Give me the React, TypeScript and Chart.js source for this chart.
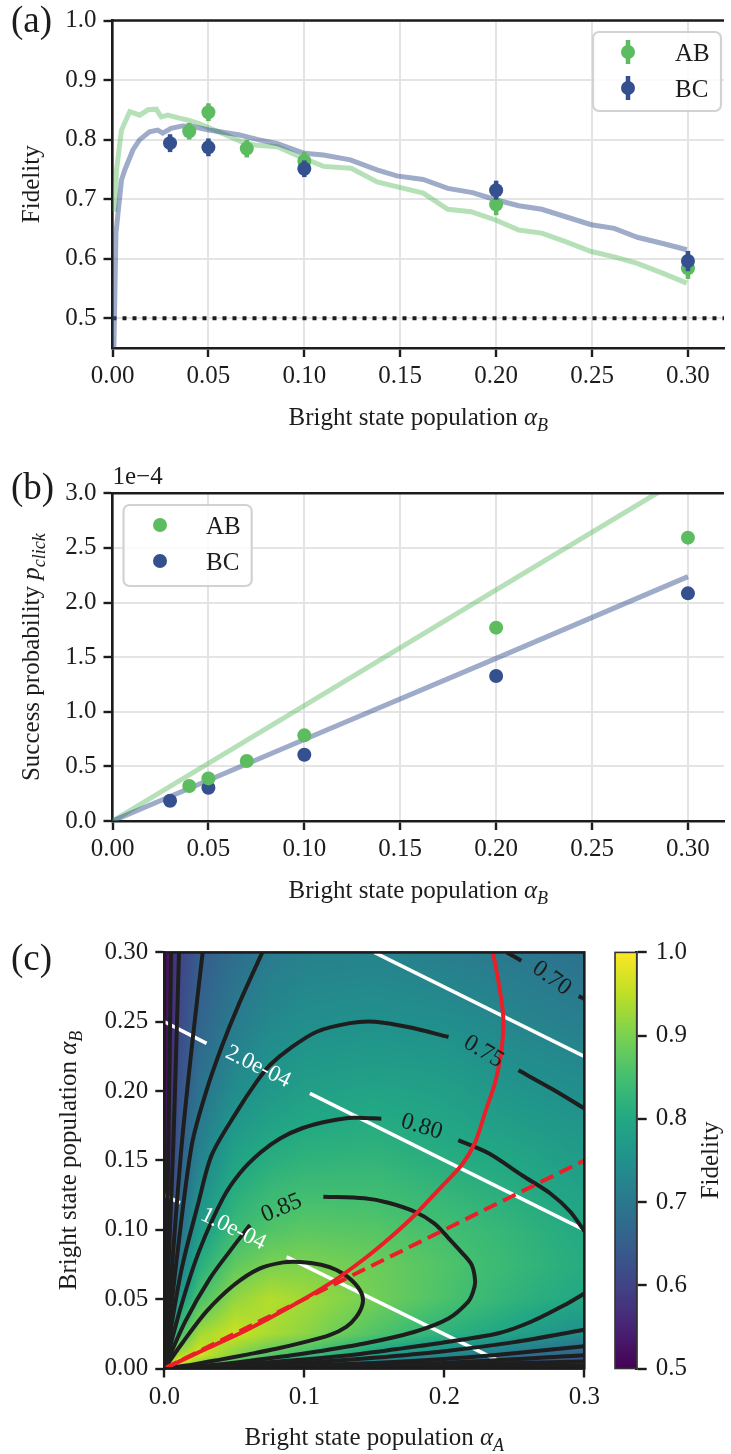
import React, { useEffect, useRef } from 'react';
import { Chart, registerables } from 'chart.js';

Chart.register(...registerables);

const SERIF = '"Liberation Serif", "Times New Roman", Times, serif';
const INK = '#1c1c1c';
const GRID_COLOR = '#e4e4e4';
const GREEN = '#5dbb60';
const BLUE = '#34508e';
const GREEN_FAINT = 'rgba(93,187,96,0.45)';
const BLUE_FAINT = 'rgba(52,80,142,0.48)';
const RED = '#ea1f27';
const CONTOUR_INK = '#1e1e1e';
const FS = 25;

// ---------------- panel (a): fidelity ----------------
const ALPHA_TICKS = [0, 0.05, 0.1, 0.15, 0.2, 0.25, 0.3];
const FIDELITY_TICKS = [0.5, 0.6, 0.7, 0.8, 0.9, 1.0];
const AB_ALPHA = [0.04, 0.05, 0.07, 0.1, 0.2, 0.3];
const AB_FIDELITY = [0.814, 0.846, 0.785, 0.764, 0.691, 0.584];
const AB_FIDELITY_ERR = [0.014, 0.015, 0.015, 0.015, 0.018, 0.018];
const BC_ALPHA = [0.03, 0.05, 0.1, 0.2, 0.3];
const BC_FIDELITY = [0.794, 0.787, 0.751, 0.715, 0.596];
const BC_FIDELITY_ERR = [0.015, 0.015, 0.014, 0.016, 0.017];
const AB_MODEL_ALPHA = [0.0012, 0.0021, 0.0047, 0.009, 0.0142, 0.0185, 0.0228, 0.0254, 0.0288, 0.0348, 0.039, 0.045, 0.0547, 0.0667, 0.074, 0.086, 0.0956, 0.11, 0.1244, 0.138, 0.148, 0.162, 0.1748, 0.1869, 0.1997, 0.2118, 0.2238, 0.2358, 0.2496, 0.2616, 0.2736, 0.2874, 0.2994];
const AB_MODEL_FIDELITY = [0.679, 0.749, 0.816, 0.847, 0.841, 0.85, 0.851, 0.838, 0.841, 0.836, 0.833, 0.827, 0.814, 0.797, 0.791, 0.788, 0.774, 0.755, 0.752, 0.729, 0.721, 0.71, 0.683, 0.679, 0.665, 0.648, 0.643, 0.629, 0.612, 0.603, 0.592, 0.575, 0.559];
const BC_MODEL_ALPHA = [0.0006, 0.0018, 0.0047, 0.0064, 0.0107, 0.0142, 0.0193, 0.0236, 0.0262, 0.0305, 0.0365, 0.0416, 0.0503, 0.0657, 0.076, 0.086, 0.1, 0.11, 0.124, 0.1379, 0.1482, 0.162, 0.1748, 0.1877, 0.1997, 0.2118, 0.2238, 0.2367, 0.2496, 0.2616, 0.2736, 0.2874, 0.2994];
const BC_MODEL_FIDELITY = [0.43, 0.643, 0.732, 0.749, 0.783, 0.8, 0.813, 0.816, 0.811, 0.819, 0.823, 0.822, 0.816, 0.808, 0.8, 0.793, 0.777, 0.774, 0.766, 0.749, 0.739, 0.733, 0.718, 0.711, 0.699, 0.689, 0.683, 0.67, 0.657, 0.651, 0.636, 0.625, 0.615];
const CLASSICAL_LIMIT = 0.5;

// ---------------- panel (b): success probability (units of 1e-4) ----------------
const P_TICKS = [0, 0.5, 1.0, 1.5, 2.0, 2.5, 3.0];
const P_EXPONENT_LABEL = '1e\u22124';
const AB_PCLICK = [0.32, 0.39, 0.549, 0.784, 1.77, 2.594];
const BC_PCLICK = [0.186, 0.305, 0.607, 1.327, 2.084];
const PCLICK_MODEL_ALPHA = [0, 0.1, 0.2, 0.3];
const AB_PCLICK_MODEL = [0, 1.057, 2.115, 3.172];
const BC_PCLICK_MODEL = [0, 0.746, 1.489, 2.237];

// ---------------- panel (c): fidelity map ----------------
const MAP_A_TICKS = [0, 0.1, 0.2, 0.3];
const MAP_B_TICKS = [0, 0.05, 0.1, 0.15, 0.2, 0.25, 0.3];
const CBAR_TICKS = [0.5, 0.6, 0.7, 0.8, 0.9, 1.0];
const GRID_A = [0, 0.005, 0.01, 0.025, 0.05, 0.075, 0.1, 0.15, 0.2, 0.25, 0.3];
const GRID_B = [0, 0.0025, 0.005, 0.01, 0.025, 0.05, 0.075, 0.1, 0.15, 0.2, 0.25, 0.3];
const FIDELITY_MAP = [
  [0.98, 0.5, 0.5, 0.5, 0.5, 0.5, 0.5, 0.5, 0.5, 0.5, 0.5],
  [0.5, 0.98, 0.93, 0.84, 0.78, 0.72, 0.7, 0.65, 0.61, 0.58, 0.565],
  [0.5, 0.93, 0.99, 0.92, 0.86, 0.81, 0.765, 0.71, 0.665, 0.625, 0.6],
  [0.5, 0.87, 0.935, 0.97, 0.91, 0.87, 0.845, 0.785, 0.735, 0.69, 0.652],
  [0.5, 0.77, 0.845, 0.93, 0.963, 0.935, 0.915, 0.862, 0.82, 0.788, 0.745],
  [0.5, 0.675, 0.77, 0.855, 0.918, 0.944, 0.93, 0.893, 0.857, 0.822, 0.797],
  [0.5, 0.635, 0.705, 0.81, 0.875, 0.898, 0.902, 0.887, 0.862, 0.832, 0.807],
  [0.5, 0.615, 0.677, 0.775, 0.837, 0.862, 0.872, 0.866, 0.848, 0.826, 0.8],
  [0.5, 0.59, 0.645, 0.722, 0.79, 0.812, 0.822, 0.826, 0.81, 0.797, 0.773],
  [0.5, 0.575, 0.625, 0.69, 0.742, 0.765, 0.78, 0.79, 0.782, 0.758, 0.745],
  [0.5, 0.56, 0.607, 0.662, 0.705, 0.733, 0.745, 0.75, 0.745, 0.727, 0.712],
  [0.5, 0.55, 0.598, 0.645, 0.68, 0.705, 0.717, 0.722, 0.712, 0.699, 0.687],
];

type Pt = [number, number];
const F090: Pt[] = [[0, 0], [0.0135, 0.0193], [0.03, 0.041], [0.0495, 0.06], [0.068, 0.072], [0.085, 0.0765], [0.097, 0.0768], [0.112, 0.0748], [0.123, 0.071], [0.134, 0.0635], [0.141, 0.054], [0.1415, 0.046], [0.137, 0.037], [0.13, 0.03], [0.118, 0.024], [0.1, 0.019], [0.08, 0.0142], [0.06, 0.0102], [0.04, 0.0064], [0.02, 0.0028], [0, 0]];
const F085_LEFT: Pt[] = [[0, 0], [0.015, 0.034], [0.0326, 0.065], [0.0486, 0.087], [0.0612, 0.1035]];
const F085_RIGHT: Pt[] = [[0.1136, 0.1239], [0.143, 0.1227], [0.16, 0.1195], [0.179, 0.113], [0.193, 0.1045], [0.203, 0.094], [0.213, 0.083], [0.2196, 0.0746], [0.222, 0.0626], [0.2205, 0.055], [0.217, 0.048], [0.203, 0.036], [0.179, 0.0265], [0.143, 0.018], [0.1, 0.0108], [0.06, 0.0055], [0.03, 0.0022], [0, 0]];
const F080_LEFT: Pt[] = [[0, 0], [0.012, 0.045], [0.025, 0.085], [0.042, 0.123], [0.0541, 0.141], [0.0687, 0.1557], [0.083, 0.166], [0.0989, 0.1734], [0.118, 0.1785], [0.1358, 0.1808], [0.155, 0.18]];
const F080_RIGHT: Pt[] = [[0.21, 0.1647], [0.232, 0.155], [0.256, 0.139], [0.276, 0.126], [0.29, 0.113], [0.3, 0.099]];
const F080_LOW: Pt[] = [[0.3, 0.054], [0.286, 0.0458], [0.262, 0.0337], [0.2386, 0.0254], [0.203, 0.0193], [0.17, 0.0145], [0.14, 0.0105], [0.1, 0.0065], [0.06, 0.0035], [0.03, 0.0014], [0, 0]];
const F075_LEFT: Pt[] = [[0, 0], [0.012, 0.07], [0.0245, 0.12], [0.0339, 0.154], [0.0517, 0.185], [0.066, 0.2068], [0.0755, 0.2188], [0.0898, 0.2308], [0.1089, 0.2428], [0.1326, 0.249], [0.1505, 0.25], [0.175, 0.246], [0.203, 0.239]];
const F075_RIGHT: Pt[] = [[0.253, 0.215], [0.277, 0.2015], [0.3, 0.1876]];
const F075_LOW: Pt[] = [[0.3, 0.028], [0.25, 0.019], [0.2, 0.0125], [0.15, 0.0078], [0.1, 0.0042], [0.05, 0.0015], [0, 0]];
const F070_LEFT: Pt[] = [[0, 0], [0.009, 0.08], [0.0196, 0.161], [0.03, 0.2], [0.041, 0.232], [0.053, 0.262], [0.07, 0.3]];
const F070_TOP: Pt[] = [[0.2447, 0.3], [0.255, 0.294]];
const F070_EDGE: Pt[] = [[0.296, 0.2685], [0.3, 0.2665]];
const F070_LOW: Pt[] = [[0.3, 0.016], [0.25, 0.011], [0.2, 0.0068], [0.15, 0.004], [0.1, 0.0022], [0.05, 0.0007], [0, 0]];
const F065_LEFT: Pt[] = [[0, 0], [0.006, 0.08], [0.0124, 0.161], [0.02, 0.235], [0.0274, 0.3]];
const F065_LOW: Pt[] = [[0.3, 0.0095], [0.2, 0.004], [0.1, 0.0013], [0, 0]];
const F060_LEFT: Pt[] = [[0, 0], [0.004, 0.1], [0.0064, 0.161], [0.0085, 0.23], [0.0105, 0.3]];
const F060_LOW: Pt[] = [[0.3, 0.005], [0.15, 0.0016], [0, 0]];
const F055_LEFT: Pt[] = [[0, 0], [0.0029, 0.161], [0.0048, 0.3]];
const F055_LOW: Pt[] = [[0.3, 0.002], [0, 0]];
const FIDELITY_CONTOURS: Pt[][] = [F090, F085_LEFT, F085_RIGHT, F080_LEFT, F080_RIGHT, F080_LOW, F075_LEFT, F075_RIGHT, F075_LOW, F070_LEFT, F070_TOP, F070_EDGE, F070_LOW, F065_LEFT, F065_LOW, F060_LEFT, F060_LOW, F055_LEFT, F055_LOW];

const PCLICK_1E4: Pt[][] = [[[0, 0.125], [0.0112, 0.1194]], [[0.0874, 0.0805], [0.24, 0.005]]];
const PCLICK_2E4: Pt[][] = [[[0, 0.25], [0.0302, 0.2344]], [[0.104, 0.1984], [0.3, 0.1]]];
const PCLICK_3E4: Pt[][] = [[[0.15, 0.3], [0.3, 0.225]]];
const OPTIMUM_CURVE: Pt[] = [[0, 0], [0.03, 0.0142], [0.0589, 0.0278], [0.09, 0.0445], [0.12, 0.0625], [0.1434, 0.0795], [0.162, 0.095], [0.179, 0.1107], [0.196, 0.129], [0.2124, 0.1467], [0.222, 0.163], [0.2296, 0.186], [0.2365, 0.207], [0.2412, 0.232], [0.242, 0.255], [0.2385, 0.28], [0.2347, 0.3]];
const BALANCED_LINE: Pt[] = [[0, 0], [0.3, 0.15]];

type MapLabel = { text: string; a: number; b: number; deg: number; color: string; size: number };
const MAP_LABELS: MapLabel[] = [
  { text: '2.0e-04', a: 0.067, b: 0.2175, deg: 26.3, color: '#ffffff', size: 23 },
  { text: '1.0e-04', a: 0.0493, b: 0.1005, deg: 26.3, color: '#ffffff', size: 23 },
  { text: '0.85', a: 0.0838, b: 0.1155, deg: -23, color: INK, size: 24 },
  { text: '0.80', a: 0.1838, b: 0.1743, deg: 17, color: INK, size: 24 },
  { text: '0.75', a: 0.228, b: 0.2284, deg: 31, color: INK, size: 24 },
  { text: '0.70', a: 0.2767, b: 0.2813, deg: 36, color: INK, size: 24 },
];

const VIRIDIS = ['#440154', '#482475', '#414487', '#355f8d', '#2a788e', '#21918c', '#22a884', '#44bf70', '#7ad151', '#bddf26', '#fde725'];
const VIRIDIS_RGB = VIRIDIS.map((h) => [parseInt(h.slice(1, 3), 16), parseInt(h.slice(3, 5), 16), parseInt(h.slice(5, 7), 16)]);

function viridis(t: number): number[] {
  const u = Math.min(1, Math.max(0, t)) * (VIRIDIS_RGB.length - 1);
  const i = Math.min(VIRIDIS_RGB.length - 2, Math.floor(u));
  const f = u - i;
  const c0 = VIRIDIS_RGB[i];
  const c1 = VIRIDIS_RGB[i + 1];
  return [c0[0] + (c1[0] - c0[0]) * f, c0[1] + (c1[1] - c0[1]) * f, c0[2] + (c1[2] - c0[2]) * f];
}

function findCell(grid: number[], v: number): [number, number] {
  let i = 0;
  while (i < grid.length - 2 && v > grid[i + 1]) i++;
  const t = (v - grid[i]) / (grid[i + 1] - grid[i]);
  return [i, Math.min(1, Math.max(0, t))];
}

function fidelityAt(a: number, b: number): number {
  const [i, tx] = findCell(GRID_A, a);
  const [j, ty] = findCell(GRID_B, b);
  const f00 = FIDELITY_MAP[j][i];
  const f10 = FIDELITY_MAP[j][i + 1];
  const f01 = FIDELITY_MAP[j + 1][i];
  const f11 = FIDELITY_MAP[j + 1][i + 1];
  return f00 * (1 - tx) * (1 - ty) + f10 * tx * (1 - ty) + f01 * (1 - tx) * ty + f11 * tx * ty;
}

type Run = { t: string; it?: boolean; sub?: boolean };
function drawRuns(ctx: CanvasRenderingContext2D, runs: Run[], x: number, y: number, size: number, align: 'center' | 'left', rot = 0, color = INK) {
  ctx.save();
  ctx.translate(x, y);
  ctx.rotate(rot);
  const fontFor = (r: Run) => `${r.it ? 'italic ' : ''}${r.sub ? Math.round(size * 0.7) : size}px ${SERIF}`;
  let total = 0;
  for (const r of runs) {
    ctx.font = fontFor(r);
    total += ctx.measureText(r.t).width;
  }
  let cx = align === 'center' ? -total / 2 : 0;
  ctx.fillStyle = color;
  ctx.textAlign = 'left';
  ctx.textBaseline = 'alphabetic';
  for (const r of runs) {
    ctx.font = fontFor(r);
    ctx.fillText(r.t, cx, r.sub ? size * 0.24 : 0);
    cx += ctx.measureText(r.t).width;
  }
  ctx.restore();
}

const tickFont = { family: SERIF, size: FS, lineHeight: 1 };

function linearAxis(min: number, max: number, values: number[], digits: number, showGrid: boolean, fitSize: number, isX: boolean, extra: any = {}) {
  return {
    type: 'linear',
    min,
    max,
    afterBuildTicks: (s: any) => {
      s.ticks = values.map((v) => ({ value: v }));
    },
    afterFit: (s: any) => {
      if (isX) s.height = fitSize;
      else s.width = fitSize;
    },
    ticks: {
      font: tickFont,
      color: INK,
      padding: 7,
      autoSkip: false,
      maxRotation: 0,
      minRotation: 0,
      callback: (v: any) => Number(v).toFixed(digits),
    },
    grid: { display: true, drawOnChartArea: showGrid, color: GRID_COLOR, lineWidth: 2, drawTicks: true, tickLength: 9, tickColor: INK, tickWidth: 2.4 },
    border: { display: true, color: INK, width: 2.6 },
    ...extra,
  };
}

const toXY = (xs: number[], ys: number[]) => xs.map((x, i) => ({ x, y: ys[i] }));
const pairXY = (p: Pt[]) => p.map(([x, y]) => ({ x, y }));

const baseOptions = {
  responsive: false,
  maintainAspectRatio: false,
  animation: false as const,
  events: [] as any[],
  plugins: { legend: { display: false }, tooltip: { enabled: false } },
};

const errorBarPlugin = {
  id: 'errorBars',
  beforeDatasetDraw(chart: any, args: any) {
    const ds = chart.data.datasets[args.index];
    if (!ds.errors) return;
    const { ctx } = chart;
    const x = chart.scales.x;
    const y = chart.scales.y;
    ctx.save();
    ctx.strokeStyle = ds.backgroundColor;
    ctx.lineWidth = 4.5;
    ds.data.forEach((p: any, i: number) => {
      const px = x.getPixelForValue(p.x);
      ctx.beginPath();
      ctx.moveTo(px, y.getPixelForValue(p.y - ds.errors[i]));
      ctx.lineTo(px, y.getPixelForValue(p.y + ds.errors[i]));
      ctx.stroke();
    });
    ctx.restore();
  },
};

function drawLegend(ctx: CanvasRenderingContext2D, box: [number, number, number, number], mx: number, tx: number, rows: { y: number; color: string; label: string }[], withErr: boolean) {
  const [x0, y0, x1, y1] = box;
  ctx.save();
  ctx.beginPath();
  (ctx as any).roundRect(x0, y0, x1 - x0, y1 - y0, 6);
  ctx.fillStyle = 'rgba(255,255,255,0.85)';
  ctx.fill();
  ctx.strokeStyle = '#d2d2d2';
  ctx.lineWidth = 2.2;
  ctx.stroke();
  for (const r of rows) {
    if (withErr) {
      ctx.strokeStyle = r.color;
      ctx.lineWidth = 4.5;
      ctx.beginPath();
      ctx.moveTo(mx, r.y - 12);
      ctx.lineTo(mx, r.y + 12);
      ctx.stroke();
    }
    ctx.fillStyle = r.color;
    ctx.beginPath();
    ctx.arc(mx, r.y, 7, 0, Math.PI * 2);
    ctx.fill();
    ctx.fillStyle = INK;
    ctx.font = `${FS}px ${SERIF}`;
    ctx.textAlign = 'left';
    ctx.textBaseline = 'alphabetic';
    ctx.fillText(r.label, tx, r.y + 8.5);
  }
  ctx.restore();
}

function topSpine(ctx: CanvasRenderingContext2D, area: any) {
  ctx.save();
  ctx.strokeStyle = INK;
  ctx.lineWidth = 2.6;
  ctx.beginPath();
  ctx.moveTo(area.left - 1.3, area.top);
  ctx.lineTo(area.right, area.top);
  ctx.stroke();
  ctx.restore();
}

function makePanelA(canvas: HTMLCanvasElement) {
  const decor = {
    id: 'decorA',
    afterDraw(chart: any) {
      const { ctx, chartArea } = chart;
      topSpine(ctx, chartArea);
      drawRuns(ctx, [{ t: 'Bright state population ' }, { t: '\u03b1', it: true }, { t: 'B', it: true, sub: true }], (chartArea.left + chartArea.right) / 2, 425, FS, 'center');
      drawRuns(ctx, [{ t: 'Fidelity' }], 39, (chartArea.top + chartArea.bottom) / 2, FS, 'center', -Math.PI / 2);
      drawRuns(ctx, [{ t: '(a)' }], 11, 31.5, 37, 'left');
      drawLegend(ctx, [593, 32, 721, 111], 628, 675, [
        { y: 52, color: GREEN, label: 'AB' },
        { y: 88, color: BLUE, label: 'BC' },
      ], true);
    },
  };
  return new Chart(canvas, {
    type: 'scatter',
    data: {
      datasets: [
        { label: 'BC', data: toXY(BC_ALPHA, BC_FIDELITY), errors: BC_FIDELITY_ERR, backgroundColor: BLUE, borderColor: BLUE, pointRadius: 7, borderWidth: 0, order: 0 } as any,
        { label: 'AB', data: toXY(AB_ALPHA, AB_FIDELITY), errors: AB_FIDELITY_ERR, backgroundColor: GREEN, borderColor: GREEN, pointRadius: 7, borderWidth: 0, order: 1 } as any,
        { label: 'AB model', data: toXY(AB_MODEL_ALPHA, AB_MODEL_FIDELITY), showLine: true, borderColor: GREEN_FAINT, borderWidth: 5, pointRadius: 0, order: 3 },
        { label: 'BC model', data: toXY(BC_MODEL_ALPHA, BC_MODEL_FIDELITY), showLine: true, borderColor: BLUE_FAINT, borderWidth: 5, pointRadius: 0, order: 2 },
        { label: 'limit', data: [{ x: 0, y: CLASSICAL_LIMIT }, { x: 0.3188, y: CLASSICAL_LIMIT }], showLine: true, borderColor: INK, borderWidth: 4, borderDash: [4, 6], pointRadius: 0, order: 4 },
      ],
    },
    options: {
      ...baseOptions,
      layout: { padding: { left: 0, top: 20.5, right: 0, bottom: 0 } },
      scales: {
        x: linearAxis(0, 0.3188, ALPHA_TICKS, 2, true, 92, true),
        y: linearAxis(0.45, 1.0, FIDELITY_TICKS, 1, true, 112.5, false),
      },
    } as any,
    plugins: [errorBarPlugin, decor],
  });
}

function makePanelB(canvas: HTMLCanvasElement) {
  const decor = {
    id: 'decorB',
    afterDraw(chart: any) {
      const { ctx, chartArea } = chart;
      topSpine(ctx, chartArea);
      drawRuns(ctx, [{ t: P_EXPONENT_LABEL }], chartArea.left, 44, FS, 'left');
      drawRuns(ctx, [{ t: 'Bright state population ' }, { t: '\u03b1', it: true }, { t: 'B', it: true, sub: true }], (chartArea.left + chartArea.right) / 2, 458, FS, 'center');
      drawRuns(ctx, [{ t: 'Success probability ' }, { t: 'p', it: true }, { t: 'click', it: true, sub: true }], 39, (chartArea.top + chartArea.bottom) / 2, FS, 'center', -Math.PI / 2);
      drawRuns(ctx, [{ t: '(b)' }], 11, 58.5, 37, 'left');
      drawLegend(ctx, [123.5, 65, 251.7, 146], 160, 206, [
        { y: 85, color: GREEN, label: 'AB' },
        { y: 121, color: BLUE, label: 'BC' },
      ], false);
    },
  };
  return new Chart(canvas, {
    type: 'scatter',
    data: {
      datasets: [
        { label: 'AB', data: toXY(AB_ALPHA, AB_PCLICK), backgroundColor: GREEN, pointRadius: 7, borderWidth: 0, order: 0 },
        { label: 'BC', data: toXY(BC_ALPHA, BC_PCLICK), backgroundColor: BLUE, pointRadius: 7, borderWidth: 0, order: 1 },
        { label: 'AB model', data: toXY(PCLICK_MODEL_ALPHA, AB_PCLICK_MODEL), showLine: true, borderColor: GREEN_FAINT, borderWidth: 5, pointRadius: 0, order: 3 },
        { label: 'BC model', data: toXY(PCLICK_MODEL_ALPHA, BC_PCLICK_MODEL), showLine: true, borderColor: BLUE_FAINT, borderWidth: 5, pointRadius: 0, order: 2 },
      ],
    },
    options: {
      ...baseOptions,
      layout: { padding: { left: 0, top: 53.3, right: 0, bottom: 0 } },
      scales: {
        x: linearAxis(0, 0.3188, ALPHA_TICKS, 2, true, 89, true),
        y: linearAxis(0, 3.0, P_TICKS, 1, true, 112.5, false),
      },
    } as any,
    plugins: [decor],
  });
}

function makePanelC(canvas: HTMLCanvasElement) {
  const heatmap = {
    id: 'heatmap',
    beforeDatasetsDraw(chart: any) {
      const { ctx, chartArea } = chart;
      const xs = chart.scales.x;
      const ys = chart.scales.y;
      const w = Math.round(chartArea.right - chartArea.left);
      const h = Math.round(chartArea.bottom - chartArea.top);
      const off = document.createElement('canvas');
      off.width = w;
      off.height = h;
      const octx = off.getContext('2d')!;
      const img = octx.createImageData(w, h);
      for (let j = 0; j < h; j++) {
        const b = ys.getValueForPixel(chartArea.top + j + 0.5);
        for (let i = 0; i < w; i++) {
          const a = xs.getValueForPixel(chartArea.left + i + 0.5);
          const c = viridis((fidelityAt(a, b) - 0.5) / 0.5);
          const k = (j * w + i) * 4;
          img.data[k] = c[0];
          img.data[k + 1] = c[1];
          img.data[k + 2] = c[2];
          img.data[k + 3] = 255;
        }
      }
      octx.putImageData(img, 0, 0);
      ctx.drawImage(off, chartArea.left, chartArea.top, chartArea.right - chartArea.left, chartArea.bottom - chartArea.top);
    },
    afterDatasetsDraw(chart: any) {
      const { ctx } = chart;
      const xs = chart.scales.x;
      const ys = chart.scales.y;
      for (const l of MAP_LABELS) {
        ctx.save();
        ctx.translate(xs.getPixelForValue(l.a), ys.getPixelForValue(l.b));
        ctx.rotate((l.deg * Math.PI) / 180);
        ctx.font = `${l.size}px ${SERIF}`;
        ctx.fillStyle = l.color;
        ctx.textAlign = 'center';
        ctx.textBaseline = 'middle';
        ctx.fillText(l.text, 0, 0);
        ctx.restore();
      }
    },
    afterDraw(chart: any) {
      const { ctx, chartArea } = chart;
      ctx.save();
      ctx.strokeStyle = INK;
      ctx.lineWidth = 2.6;
      ctx.strokeRect(chartArea.left, chartArea.top, chartArea.right - chartArea.left, chartArea.bottom - chartArea.top);
      ctx.restore();
      drawRuns(ctx, [{ t: 'Bright state population ' }, { t: '\u03b1', it: true }, { t: 'A', it: true, sub: true }], (chartArea.left + chartArea.right) / 2, 535, FS, 'center');
      drawRuns(ctx, [{ t: 'Bright state population ' }, { t: '\u03b1', it: true }, { t: 'B', it: true, sub: true }], 76, (chartArea.top + chartArea.bottom) / 2, FS, 'center', -Math.PI / 2);
      drawRuns(ctx, [{ t: '(c)' }], 11, 59.8, 37, 'left');
    },
  };
  const lineDs = (p: Pt[], color: string, width: number, order: number, extra: any = {}) => ({
    data: pairXY(p),
    showLine: true,
    borderColor: color,
    borderWidth: width,
    pointRadius: 0,
    tension: 0.3,
    order,
    ...extra,
  });
  const datasets: any[] = [
    lineDs(OPTIMUM_CURVE, RED, 4, 0),
    lineDs(BALANCED_LINE, RED, 4, 0, { borderDash: [14, 7], tension: 0 }),
    ...FIDELITY_CONTOURS.map((c) => lineDs(c, CONTOUR_INK, 4, 1)),
    ...[...PCLICK_1E4, ...PCLICK_2E4, ...PCLICK_3E4].map((c) => lineDs(c, '#ffffff', 3.6, 2, { tension: 0 })),
  ];
  return new Chart(canvas, {
    type: 'scatter',
    data: { datasets },
    options: {
      ...baseOptions,
      layout: { padding: { left: 0, top: 42.4, right: 35.7, bottom: 0 } },
      scales: {
        x: linearAxis(0, 0.3, MAP_A_TICKS, 1, false, 85.5, true),
        y: linearAxis(0, 0.3, MAP_B_TICKS, 2, false, 164.3, false),
      },
    } as any,
    plugins: [heatmap],
  });
}

function makeColorbar(canvas: HTMLCanvasElement) {
  const bar = {
    id: 'colorbar',
    beforeDatasetsDraw(chart: any) {
      const { ctx, chartArea } = chart;
      const ys = chart.scales.y;
      const g = ctx.createLinearGradient(0, ys.getPixelForValue(0.5), 0, ys.getPixelForValue(1.0));
      VIRIDIS.forEach((c, i) => g.addColorStop(i / (VIRIDIS.length - 1), c));
      ctx.save();
      ctx.fillStyle = g;
      ctx.fillRect(chartArea.left, chartArea.top, chartArea.right - chartArea.left, chartArea.bottom - chartArea.top);
      ctx.strokeStyle = '#333';
      ctx.lineWidth = 1.6;
      ctx.strokeRect(chartArea.left, chartArea.top, chartArea.right - chartArea.left, chartArea.bottom - chartArea.top);
      ctx.restore();
    },
    afterDraw(chart: any) {
      const { ctx, chartArea } = chart;
      drawRuns(ctx, [{ t: 'Fidelity' }], 118, (chartArea.top + chartArea.bottom) / 2, FS, 'center', -Math.PI / 2);
    },
  };
  const yAxis: any = linearAxis(0.5, 1.0, CBAR_TICKS, 1, false, 94.3, false, { position: 'right' });
  yAxis.ticks.padding = 9;
  yAxis.grid.tickLength = 10;
  return new Chart(canvas, {
    type: 'scatter',
    data: { datasets: [] },
    options: {
      ...baseOptions,
      layout: { padding: { left: 15, top: 42.4, right: 0, bottom: 85.5 } },
      scales: {
        x: { type: 'linear', display: false, min: 0, max: 1 },
        y: yAxis,
      },
    } as any,
    plugins: [bar],
  });
}

export default function App() {
  const refA = useRef<HTMLCanvasElement>(null);
  const refB = useRef<HTMLCanvasElement>(null);
  const refC = useRef<HTMLCanvasElement>(null);
  const refBar = useRef<HTMLCanvasElement>(null);

  useEffect(() => {
    Chart.defaults.font.family = SERIF;
    Chart.defaults.color = INK;
    const charts = [makePanelA(refA.current!), makePanelB(refB.current!), makePanelC(refC.current!), makeColorbar(refBar.current!)];
    return () => charts.forEach((c) => c.destroy());
  }, []);

  const abs = (left: number, top: number, width: number, height: number): React.CSSProperties => ({ position: 'absolute', left, top, width, height });
  return (
    <div style={{ position: 'absolute', left: 0, top: 0, width: 731, height: 1454, background: '#ffffff', overflow: 'hidden' }}>
      <canvas ref={refA} width={731} height={440} style={abs(0, 0, 731, 440)} />
      <canvas ref={refB} width={731} height={470} style={abs(0, 440, 731, 470)} />
      <canvas ref={refC} width={620} height={544} style={abs(0, 910, 620, 544)} />
      <canvas ref={refBar} width={131} height={544} style={abs(600, 910, 131, 544)} />
    </div>
  );
}
